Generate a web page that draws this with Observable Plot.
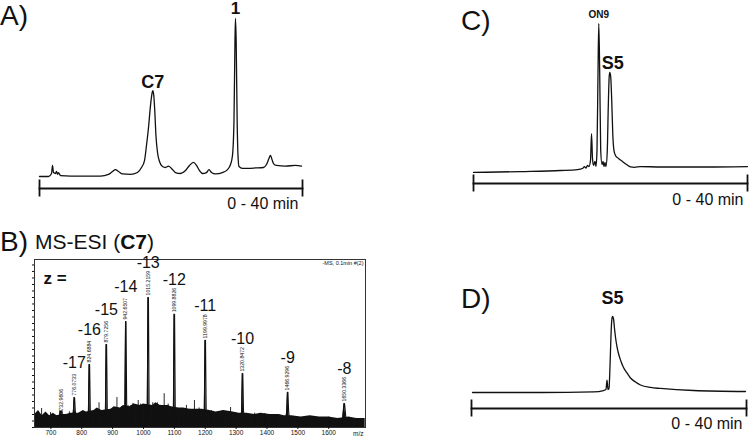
<!DOCTYPE html>
<html><head><meta charset="utf-8">
<script src="https://cdn.jsdelivr.net/npm/d3@7"></script>
<script src="https://cdn.jsdelivr.net/npm/@observablehq/plot@0.6"></script>
<style>
html,body{margin:0;padding:0;background:#fff;}
#fig{position:relative;width:750px;height:440px;overflow:hidden;font-family:"Liberation Sans",Arial,sans-serif;color:#111;background:#fff;}
#fig svg{position:absolute;overflow:visible;}
</style></head>
<body><div id="fig"></div>
<script>
// ---------- shared ----------
const tRange = [0, 40];
const rangeLabel = "0 - 40 min";

// ---------- Panel A: HPLC trace ----------
const aTime = [0,1.37,1.83,1.98,2.13,2.43,2.59,2.74,2.89,3.19,4.71,9.28,10.49,11.10,11.56,12.02,12.62,13.84,14.90,15.51,15.97,16.27,16.58,16.88,17.11,17.23,17.38,17.53,17.71,17.95,18.25,18.71,19.16,19.62,20.08,20.68,21.44,22.21,22.81,23.42,23.88,24.33,24.79,25.40,25.78,26.16,26.77,27.83,28.59,29.05,29.35,29.58,29.73,29.81,29.91,30.06,30.19,30.34,30.87,32.85,34.07,34.52,34.90,35.13,35.36,35.59,36.05,37.41,38.94,39.85];
const aSignal = [0,0,1.9,7.0,2.5,1.9,3.2,1.3,2.5,0.6,0.3,0.3,1.3,3.2,4.4,3.2,1.6,1.3,2.5,5.7,10.1,19.6,31.0,44.9,52.5,54.4,51.3,41.8,25.9,15.2,9.5,6.3,5.7,6.6,5.1,2.5,1.9,3.8,7.0,8.9,7.0,3.8,1.9,2.5,4.4,2.5,1.6,2.5,4.4,7.6,13.3,35.4,86.1,100,86.1,35.4,13.3,6.3,5.1,5.4,5.7,7.6,11.4,13.3,10.8,8.2,7.0,6.6,7.0,6.6];
const aPeakLabels = ["C7", "1"];
const aPeakTimes = [17.23, 29.81];

// ---------- Panel C ----------
const cTime = [0,6.86,12.70,15.18,15.91,16.20,16.42,16.64,16.86,17.08,17.23,17.37,17.52,17.74,17.88,18.03,18.18,18.29,18.42,18.57,18.76,18.91,19.05,19.20,19.34,19.53,19.68,19.81,19.90,20.03,20.18,20.34,20.51,20.73,21.17,21.75,22.34,22.92,23.50,24.38,27.30,33.14,40];
const cSignal = [2.0,2.6,3.3,3.9,4.6,5.9,4.9,6.6,5.9,9.9,27.6,11.2,6.6,9.2,5.9,16.4,69.1,100,69.1,16.4,7.2,9.2,5.9,8.6,5.9,16.4,46.1,65.1,67.8,65.1,49.3,26.3,16.4,13.2,11.2,9.2,7.2,5.6,5.3,5.9,5.6,5.6,5.9];
const cPeakLabels = ["ON9", "S5"];
const cPeakTimes = [18.29, 19.90];

// ---------- Panel D ----------
const dTime = [0.15,10.04,17.75,19.20,19.56,19.71,19.85,20.00,20.15,20.29,20.41,20.51,20.65,20.80,20.95,21.16,21.38,21.75,22.11,22.62,23.13,23.85,24.58,26.04,27.49,32.29,39.85];
const dSignal = [0,0,0.9,2.6,3.9,16.4,3.9,5.3,35.5,75.0,96.1,100,97.4,84.2,72.4,60.5,51.3,40.8,32.9,25.7,19.1,13.8,9.9,6.6,5.3,2.6,1.3];
const dPeakLabels = ["S5"];
const dPeakTimes = [20.51];

// ---------- Panel B: MS-ESI spectrum ----------
const msTicks = [700, 800, 900, 1000, 1100, 1200, 1300, 1400, 1500, 1600];
const msPeakMz = [732.96, 776.07, 824.69, 879.73, 942.65, 1015.22, 1099.88, 1199.99, 1320.85, 1466.93, 1650.34];
const msPeakInt = [11.5, 23, 48.5, 63.8, 81.5, 100, 87, 67, 41.5, 27, 18.5];
const msPeakText = ["732.9606","776.0733","824.6884","879.7256","942.6507","1015.2159","1099.8826","1199.9978","1320.8472","1466.9296","1650.3366"];
const msCharge = ["", "-17", "-16", "-15", "-14", "-13", "-12", "-11", "-10", "-9", "-8"];
const msNoiseMz = [648,660,672,684,696,708,720,735,750,765,790,805,815,840,850,865,895,905,925,935,955,970,990,1000,1030,1040,1055,1080,1090,1115,1130,1150,1175,1190,1215,1235,1260,1290,1310,1335,1360,1380,1410,1440,1455,1480,1510,1540,1570,1600,1630,1665,1690,1718];
const msNoiseInt = [10,13,9,12,9,11,9,10,10,11,11,13,12,13,15,13,14,16,15,17,16,18,17,18,17,19,17,17,16,15,15,14,14,14,13,12,13,12,11,11,10,11,10,10,9,9,8,9,8,8,7,8,7,7];
const msSpikeMz = [670, 686, 699, 719, 745, 760, 790, 800, 845, 856, 870, 895, 914, 930, 950, 960, 966, 983, 990, 1005, 1030, 1045, 1055, 1067, 1080, 1120, 1139, 1150, 1165, 1180, 1220, 1240, 1256, 1282, 1300, 1340, 1360, 1393, 1420, 1429, 1500, 1530, 1560, 1600, 1630, 1690];
const msSpikeInt = [14.6, 10.8, 11.5, 9.2, 10, 12, 10, 11, 12, 19, 13, 14, 23, 16, 17, 17, 18.5, 20.8, 18, 17, 19, 19, 17, 26, 18, 14, 17, 14, 20.8, 15, 13, 12, 13, 15.4, 11, 10, 11, 10.8, 10, 10, 8, 8, 7, 8, 7, 7];
const msInfo = "-MS, 0.1min #(2)";

// ---------- helpers ----------
const fig = document.getElementById("fig");
const FONT = "Liberation Sans, Arial, sans-serif";
const INK = "#111";

function place(svg, left, top) {
  svg.style.left = left + "px";
  svg.style.top = top + "px";
  fig.appendChild(svg);
}

function chromatogram(opts) {
  const {time, signal, labels, labelTimes, labelStyles, left, top, width, height,
         marginLeft, marginRight, marginBottom, baseY, peakY, textDy} = opts;
  const series = time.map((t, i) => ({t, s: signal[i]}));
  const lab = labels.map((text, i) => {
    const j = d3.leastIndex(time, (a, b) => Math.abs(a - labelTimes[i]) - Math.abs(b - labelTimes[i]));
    return {text, t: time[j], s: signal[j]};
  });
  const plotH = height - marginBottom;
  const svg = Plot.plot({
    width, height, marginTop: 0, marginLeft, marginRight, marginBottom,
    x: {domain: tRange, axis: null},
    y: {domain: [0, 100], range: [baseY, peakY], axis: null},
    style: {fontFamily: FONT, background: "transparent", color: INK, overflow: "visible"},
    marks: [
      Plot.line(series, {x: "t", y: "s", curve: "monotone-x", stroke: INK, strokeWidth: 1.3}),
      Plot.frame({anchor: "bottom", stroke: INK, strokeWidth: 1.8}),
      Plot.ruleX(tRange, {stroke: INK, strokeWidth: 1.8, insetTop: plotH - 8.5, insetBottom: -8.5}),
      Plot.text([rangeLabel], {frameAnchor: "bottom-right", textAnchor: "end", lineAnchor: "bottom",
                               dx: -4, dy: textDy, fontSize: 16, fill: INK}),
      ...lab.map((d, i) => Plot.text([d], {x: "t", y: "s", text: "text", lineAnchor: "bottom",
                                            fontWeight: "bold", fill: INK, ...labelStyles[i]}))
    ]
  });
  place(svg, left, top);
}

// Panel A
chromatogram({
  time: aTime, signal: aSignal, labels: aPeakLabels, labelTimes: aPeakTimes,
  labelStyles: [{fontSize: 18, dy: -3}, {fontSize: 17, dy: -5}],
  left: 0, top: 0, width: 320, height: 215, marginLeft: 39, marginRight: 18, marginBottom: 27,
  baseY: 176, peakY: 18, textDy: 20
});
// Panel C
chromatogram({
  time: cTime, signal: cSignal, labels: cPeakLabels, labelTimes: cPeakTimes,
  labelStyles: [{fontSize: 10, dy: -6}, {fontSize: 18, dy: -3, dx: 3}],
  left: 460, top: 0, width: 290, height: 215, marginLeft: 13, marginRight: 3, marginBottom: 32,
  baseY: 175, peakY: 23, textDy: 21
});
// Panel D
chromatogram({
  time: dTime, signal: dSignal, labels: dPeakLabels, labelTimes: dPeakTimes,
  labelStyles: [{fontSize: 18, dy: -13}],
  left: 460, top: 220, width: 290, height: 220, marginLeft: 11, marginRight: 4, marginBottom: 32,
  baseY: 172, peakY: 96, textDy: 20
});

// Panel B
{
  const peaks = msPeakMz.map((mz, i) => ({mz, i: msPeakInt[i], text: msPeakText[i], z: msCharge[i]}));
  const noise = msNoiseMz.map((mz, i) => ({mz, i: msNoiseInt[i]}));
  const spikes = msSpikeMz.map((mz, i) => ({mz, i: msSpikeInt[i]}));
  // peak profile: narrow stick on a small broadened base
  const shapes = [];
  peaks.forEach((p, k) => {
    shapes.push({id: k, mz: p.mz - 8, i: 0}, {id: k, mz: p.mz - 3, i: 13},
                {id: k, mz: p.mz - 0.8, i: p.i}, {id: k, mz: p.mz + 0.8, i: p.i},
                {id: k, mz: p.mz + 3, i: 13}, {id: k, mz: p.mz + 8, i: 0});
  });
  const svg = Plot.plot({
    width: 380, height: 190, marginTop: 9, marginLeft: 34, marginRight: 15, marginBottom: 13,
    x: {domain: [647, 1719]},
    y: {domain: [0, 129.2]},
    style: {fontFamily: FONT, background: "transparent", color: INK, overflow: "visible"},
    marks: [
      Plot.areaY(noise, {x: "mz", y: "i", fill: INK, curve: "linear"}),
      Plot.ruleX(spikes, {x: "mz", y1: 0, y2: "i", stroke: INK, strokeWidth: 0.9}),
      Plot.areaY(shapes, {x: "mz", y: "i", z: "id", fill: INK}),
      Plot.line(shapes, {x: "mz", y: "i", z: "id", stroke: INK, strokeWidth: 1.1}),
      Plot.frame({stroke: "#333", strokeWidth: 1}),
      Plot.axisX(msTicks, {tickSize: 2, tickPadding: 1, fontSize: 6.5, label: null, tickFormat: d => String(d)}),
      Plot.axisY({ticks: 26, tickSize: 2, tickFormat: () => "", label: null}),
      Plot.text(peaks, {x: "mz", y: "i", text: "text", rotate: -90, textAnchor: "start",
                        dy: -2, fontSize: 5.2, fill: INK}),
      Plot.text(peaks.filter(d => d.z), {x: "mz", y: "i", text: "z", lineAnchor: "bottom",
                        dy: -29.5, fontSize: 16, fill: INK}),
      Plot.text(["m/z"], {frameAnchor: "bottom-right", textAnchor: "end", lineAnchor: "top",
                          dx: -2, dy: 4, fontSize: 6.5, fill: INK}),
      Plot.text([msInfo], {frameAnchor: "top-right", textAnchor: "end", lineAnchor: "top",
                           dx: -2, dy: 2, fontSize: 5.5, fill: INK}),
      Plot.text(["z ="], {frameAnchor: "top-left", textAnchor: "start", lineAnchor: "bottom",
                          dx: 9, dy: 24, fontSize: 17, fontWeight: "bold", fill: INK})
    ]
  });
  place(svg, 0, 250);
}

// ---------- panel letters and subtitle ----------
const over = d3.select(fig).append("svg")
  .attr("width", 750).attr("height", 440)
  .style("left", "0px").style("top", "0px")
  .style("pointer-events", "none")
  .attr("font-family", FONT).attr("fill", INK);
const letters = [
  {t: "A)", x: 0, y: 25}, {t: "B)", x: 0, y: 251},
  {t: "C)", x: 461, y: 30}, {t: "D)", x: 461, y: 308}
];
over.selectAll("text.letter").data(letters).join("text")
  .attr("class", "letter").attr("x", d => d.x).attr("y", d => d.y)
  .attr("font-size", 28).text(d => d.t);
const sub = over.append("text").attr("x", 35).attr("y", 249).attr("font-size", 21);
sub.append("tspan").text("MS-ESI (");
sub.append("tspan").attr("font-weight", "bold").text("C7");
sub.append("tspan").text(")");
</script></body></html>
